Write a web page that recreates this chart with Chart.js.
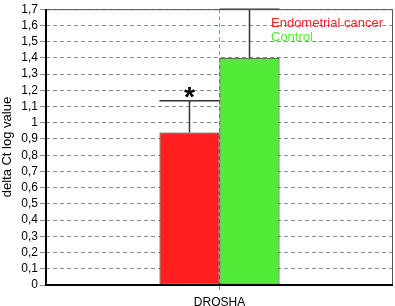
<!DOCTYPE html>
<html><head><meta charset="utf-8">
<script src="https://cdn.jsdelivr.net/npm/chart.js@4"></script>
<style>html,body{margin:0;padding:0;background:#fff}#w{width:395px;height:306px}</style>
</head><body><div id="w"><canvas id="c"></canvas></div>
<script>
const categories = ['DROSHA'];
const seriesNames = ['Endometrial cancer', 'Control'];
const means = [0.94, 1.40];
const errorTops = [1.135, 1.70];
const seriesColors = ['#ff1f1f', '#52ec38'];
const significance = ['*', ''];

const fmt = v => String(Math.round(v * 10) / 10).replace('.', ',');

const extras = {
  id: 'extras',
  afterDatasetsDraw(chart) {
    const ctx = chart.ctx, ys = chart.scales.y, a = chart.chartArea;
    ctx.save();
    chart.data.datasets.forEach((ds, i) => {
      const bar = chart.getDatasetMeta(i).data[0];
      const x = bar.x, hw = bar.width / 2;
      const yTop = ys.getPixelForValue(errorTops[i]);
      ctx.strokeStyle = '#333';
      ctx.lineWidth = 1.5;
      ctx.beginPath();
      ctx.moveTo(x, bar.y); ctx.lineTo(x, yTop);
      ctx.moveTo(x - hw, yTop); ctx.lineTo(x + hw, yTop);
      ctx.stroke();
      if (significance[i]) {
        ctx.fillStyle = '#000';
        ctx.font = 'bold 28px "Liberation Sans", Arial, sans-serif';
        ctx.textAlign = 'center';
        ctx.textBaseline = 'middle';
        ctx.fillText(significance[i], x, yTop - 3);
      }
    });
    // legend text
    ctx.font = '13px "Liberation Sans", Arial, sans-serif';
    ctx.textAlign = 'left';
    ctx.textBaseline = 'middle';
    seriesNames.forEach((n, i) => {
      ctx.fillStyle = seriesColors[i];
      ctx.fillText(n, 271, 23 + i * 14);
    });
    // frame
    ctx.lineWidth = 1;
    ctx.strokeStyle = '#555';
    ctx.beginPath();
    ctx.moveTo(a.left, a.top + 0.5); ctx.lineTo(a.right - 0.5, a.top + 0.5); ctx.lineTo(a.right - 0.5, a.bottom);
    ctx.stroke();
    ctx.lineWidth = 2;
    ctx.strokeStyle = '#000';
    ctx.beginPath();
    ctx.moveTo(a.left, a.top); ctx.lineTo(a.left, a.bottom); ctx.lineTo(a.right, a.bottom);
    ctx.stroke();
    ctx.restore();
  }
};

new Chart(document.getElementById('c'), {
  type: 'bar',
  data: {
    labels: categories,
    datasets: seriesNames.map((n, i) => ({
      label: n,
      data: [means[i]],
      backgroundColor: seriesColors[i],
      borderColor: '#222',
      borderWidth: 1,
      borderSkipped: false,
      categoryPercentage: 0.346,
      barPercentage: 1
    }))
  },
  options: {
    responsive: true,
    maintainAspectRatio: false,
    animation: false,
    layout: { padding: { top: 4, right: 2, left: 0, bottom: 0 } },
    plugins: { legend: { display: false }, tooltip: { enabled: false } },
    scales: {
      x: {
        grid: { offset: false, color: '#8a9890', tickColor: '#8a9890', tickLength: 5, drawOnChartArea: true },
        border: { display: false, dash: [4, 3] },
        ticks: { color: '#000', font: { family: '"Liberation Sans", Arial, sans-serif', size: 12 }, padding: 5 },
        afterFit: s => { s.height = 21; }
      },
      y: {
        min: 0, max: 1.7,
        ticks: { stepSize: 0.1, autoSkip: false, callback: v => fmt(v), color: '#000', padding: 2,
          font: { family: '"Liberation Sans", Arial, sans-serif', size: 12 } },
        grid: { color: '#7f9488', drawTicks: true, tickLength: 6, tickColor: '#7f9488', tickBorderDash: [] },
        border: { display: false, dash: [4, 3] },
        title: { display: true, text: 'delta Ct log value', color: '#000', padding: { top: 0, bottom: 2 },
          font: { family: '"Liberation Sans", Arial, sans-serif', size: 13 } },
        afterFit: s => { s.width = 46; }
      }
    }
  },
  plugins: [extras]
});
</script></body></html>
